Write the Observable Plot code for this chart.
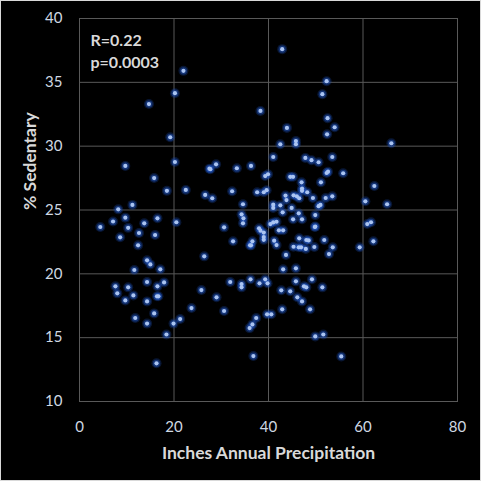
<!DOCTYPE html>
<html>
<head>
<meta charset="utf-8">
<script src="https://cdn.jsdelivr.net/npm/d3@7"></script>
<script src="https://cdn.jsdelivr.net/npm/@observablehq/plot@0.6"></script>
<style>
  html, body { margin: 0; padding: 0; background: #000; }
  #chart svg { display: block; outline: 1px solid #d9d9d9; outline-offset: -1px; }
</style>
</head>
<body>
<div id="chart"></div>
<script>
// Inches annual precipitation (x) and % sedentary (y)
const precip = [
  22.0, 20.2, 14.7, 19.2, 38.3, 9.7, 20.2, 27.5, 27.7, 28.9, 33.3, 36.3, 15.8, 18.5, 22.5, 26.6, 28.1, 32.3, 37.6,
  8.2, 11.2, 7.1, 9.7, 4.4, 10.3, 13.7, 16.5, 20.5, 8.6, 12.6, 16.0, 12.4, 14.3, 15.0, 17.1, 11.6, 26.4, 30.6, 32.5,
  34.6, 34.3, 34.7, 34.6, 38.0, 36.6, 36.1, 36.3, 7.6, 10.3, 8.0, 11.4, 9.7, 14.3, 16.5, 17.9, 16.4, 16.7, 14.3,
  11.8, 15.8, 14.3, 19.9, 21.3, 18.4, 23.7, 25.8, 29.0, 30.6, 31.9, 34.3, 34.3, 36.2, 38.1, 37.4, 36.6, 36.0, 16.3, 36.8,
  42.9, 52.3, 51.4, 43.9, 52.5, 54.0, 52.4, 45.8, 45.8, 42.5, 66.0, 41.0, 47.8, 49.1, 50.6, 53.5, 39.3, 39.9, 44.6,
  45.2, 47.0, 51.1, 52.3, 52.6, 55.8, 62.4, 39.0, 39.6, 43.6, 45.3, 46.0, 47.1, 47.1, 48.2, 49.4, 52.1, 53.5, 60.5,
  65.1, 43.8, 46.5, 41.0, 41.0, 42.5, 44.9, 43.0, 46.4, 49.9, 50.6, 51.0, 45.2, 47.1, 40.4, 41.0, 41.7, 38.3, 39.0,
  39.0, 39.0, 42.2, 43.1, 49.8, 49.9, 41.2, 41.7, 46.5, 45.3, 46.4, 46.9, 48.0, 48.5, 47.9, 49.7, 51.8, 53.6, 52.8,
  59.3, 60.9, 61.7, 62.2, 43.7, 43.1, 45.8, 39.3, 39.8, 45.8, 49.2, 47.5, 48.0, 51.4, 42.7, 44.6, 46.1, 47.1, 42.9,
  48.8, 39.7, 40.6, 49.9, 51.6, 55.4
];
const sedentary = [
  35.9, 34.15, 33.3, 30.7, 32.76, 28.45, 28.76, 28.24, 28.2, 28.58, 28.27, 28.45, 27.5, 26.5, 26.57, 26.18, 25.92, 26.47, 26.39,
  25.05, 25.4, 24.1, 24.4, 23.67, 23.6, 23.96, 24.35, 24.04, 22.86, 23.2, 23.04, 22.23, 21.06, 20.74, 20.35, 20.3, 21.37, 23.64, 22.55,
  25.45, 24.66, 24.35, 23.96, 23.57, 22.55, 22.23, 22.23, 19.02, 18.94, 18.47, 18.31, 17.92, 19.36, 19.02, 19.33, 18.24, 18.24, 17.84,
  16.54, 16.9, 16.1, 16.1, 16.46, 15.25, 17.32, 18.73, 18.16, 17.09, 19.36, 19.2, 18.94, 19.57, 19.26, 16.54, 16.04, 15.75, 12.99, 13.56,
  37.6, 35.09, 34.07, 31.43, 32.19, 31.48, 30.93, 30.4, 30.15, 30.15, 30.23, 29.15, 29.08, 28.9, 28.74, 29.15, 27.66, 27.8, 27.6,
  27.6, 27.17, 27.17, 27.9, 28.0, 27.88, 26.88, 26.39, 26.55, 26.13, 26.15, 26.07, 26.68, 26.5, 26.39, 25.94, 25.94, 26.07, 25.68,
  25.45, 25.78, 25.92, 25.42, 25.16, 25.37, 25.16, 24.82, 24.74, 24.6, 25.3, 25.4, 24.27, 24.27, 23.9, 24.03, 24.08, 23.38, 23.23,
  22.88, 22.66, 23.41, 23.41, 23.67, 23.7, 22.6, 22.25, 22.78, 22.12, 22.08, 22.08, 22.65, 22.62, 21.95, 22.1, 22.65, 22.08, 21.55,
  22.08, 23.9, 24.04, 22.55, 21.48, 20.35, 20.43, 19.57, 19.26, 19.41, 19.57, 19.02, 18.94, 18.94, 18.71, 18.63, 18.16, 17.84, 17.22,
  17.22, 16.83, 16.83, 15.1, 15.25, 13.53
];
const xTicks = [0, 20, 40, 60, 80];
const yTicks = [10, 15, 20, 25, 30, 35, 40];
const xTitle = "Inches Annual Precipitation";
const yTitle = "% Sedentary";
const statsLines = ["R=0.22", "p=0.0003"];

const points = precip.map((x, i) => ({x, y: sedentary[i]}));
const tickColor = "#cfd8e3";
const textColor = "#d9d9d9";

const chart = Plot.plot({
  width: 481,
  height: 481,
  marginLeft: 79,
  marginRight: 24,
  marginTop: 18,
  marginBottom: 80,
  style: {background: "#000", color: textColor, fontFamily: "Lato, 'Open Sans', sans-serif", fontSize: "15px"},
  x: {domain: [0, 80]},
  y: {domain: [10, 40]},
  marks: [
    Plot.gridX(xTicks.slice(1, -1), {stroke: "#595959", strokeOpacity: 1}),
    Plot.gridY(yTicks.slice(1, -1), {stroke: "#595959", strokeOpacity: 1}),
    Plot.frame({stroke: "#595959"}),
    Plot.axisX(xTicks, {tickSize: 0, tickPadding: 20, label: null, fill: tickColor, fontSize: 15}),
    Plot.axisY(yTicks, {tickSize: 0, tickPadding: 17, label: null, fill: tickColor, fontSize: 15}),
    Plot.text([xTitle], {frameAnchor: "bottom", dy: 52, fontWeight: "bold", fontSize: 17.5, fill: textColor, lineAnchor: "middle"}),
    Plot.text([yTitle], {frameAnchor: "left", dx: -49, rotate: -90, fontWeight: "bold", fontSize: 17.5, fill: textColor, lineAnchor: "middle"}),
    Plot.text([statsLines[0]], {frameAnchor: "top-left", dx: 11, dy: 22, fontWeight: "bold", fontSize: 16, fill: textColor, textAnchor: "start", lineAnchor: "middle"}),
    Plot.text([statsLines[1]], {frameAnchor: "top-left", dx: 11, dy: 44, fontWeight: "bold", fontSize: 16, fill: textColor, textAnchor: "start", lineAnchor: "middle"}),
    Plot.dot(points, {x: "x", y: "y", r: 5, fill: "#1a4aa8", fillOpacity: 0.3, stroke: "none"}),
    Plot.dot(points, {x: "x", y: "y", r: 3.6, fill: "#2458c8", fillOpacity: 0.45, stroke: "none"}),
    Plot.dot(points, {x: "x", y: "y", r: 2.1, fill: "#aac4f2", stroke: "none"})
  ]
});
document.getElementById("chart").append(chart);
</script>
</body>
</html>
